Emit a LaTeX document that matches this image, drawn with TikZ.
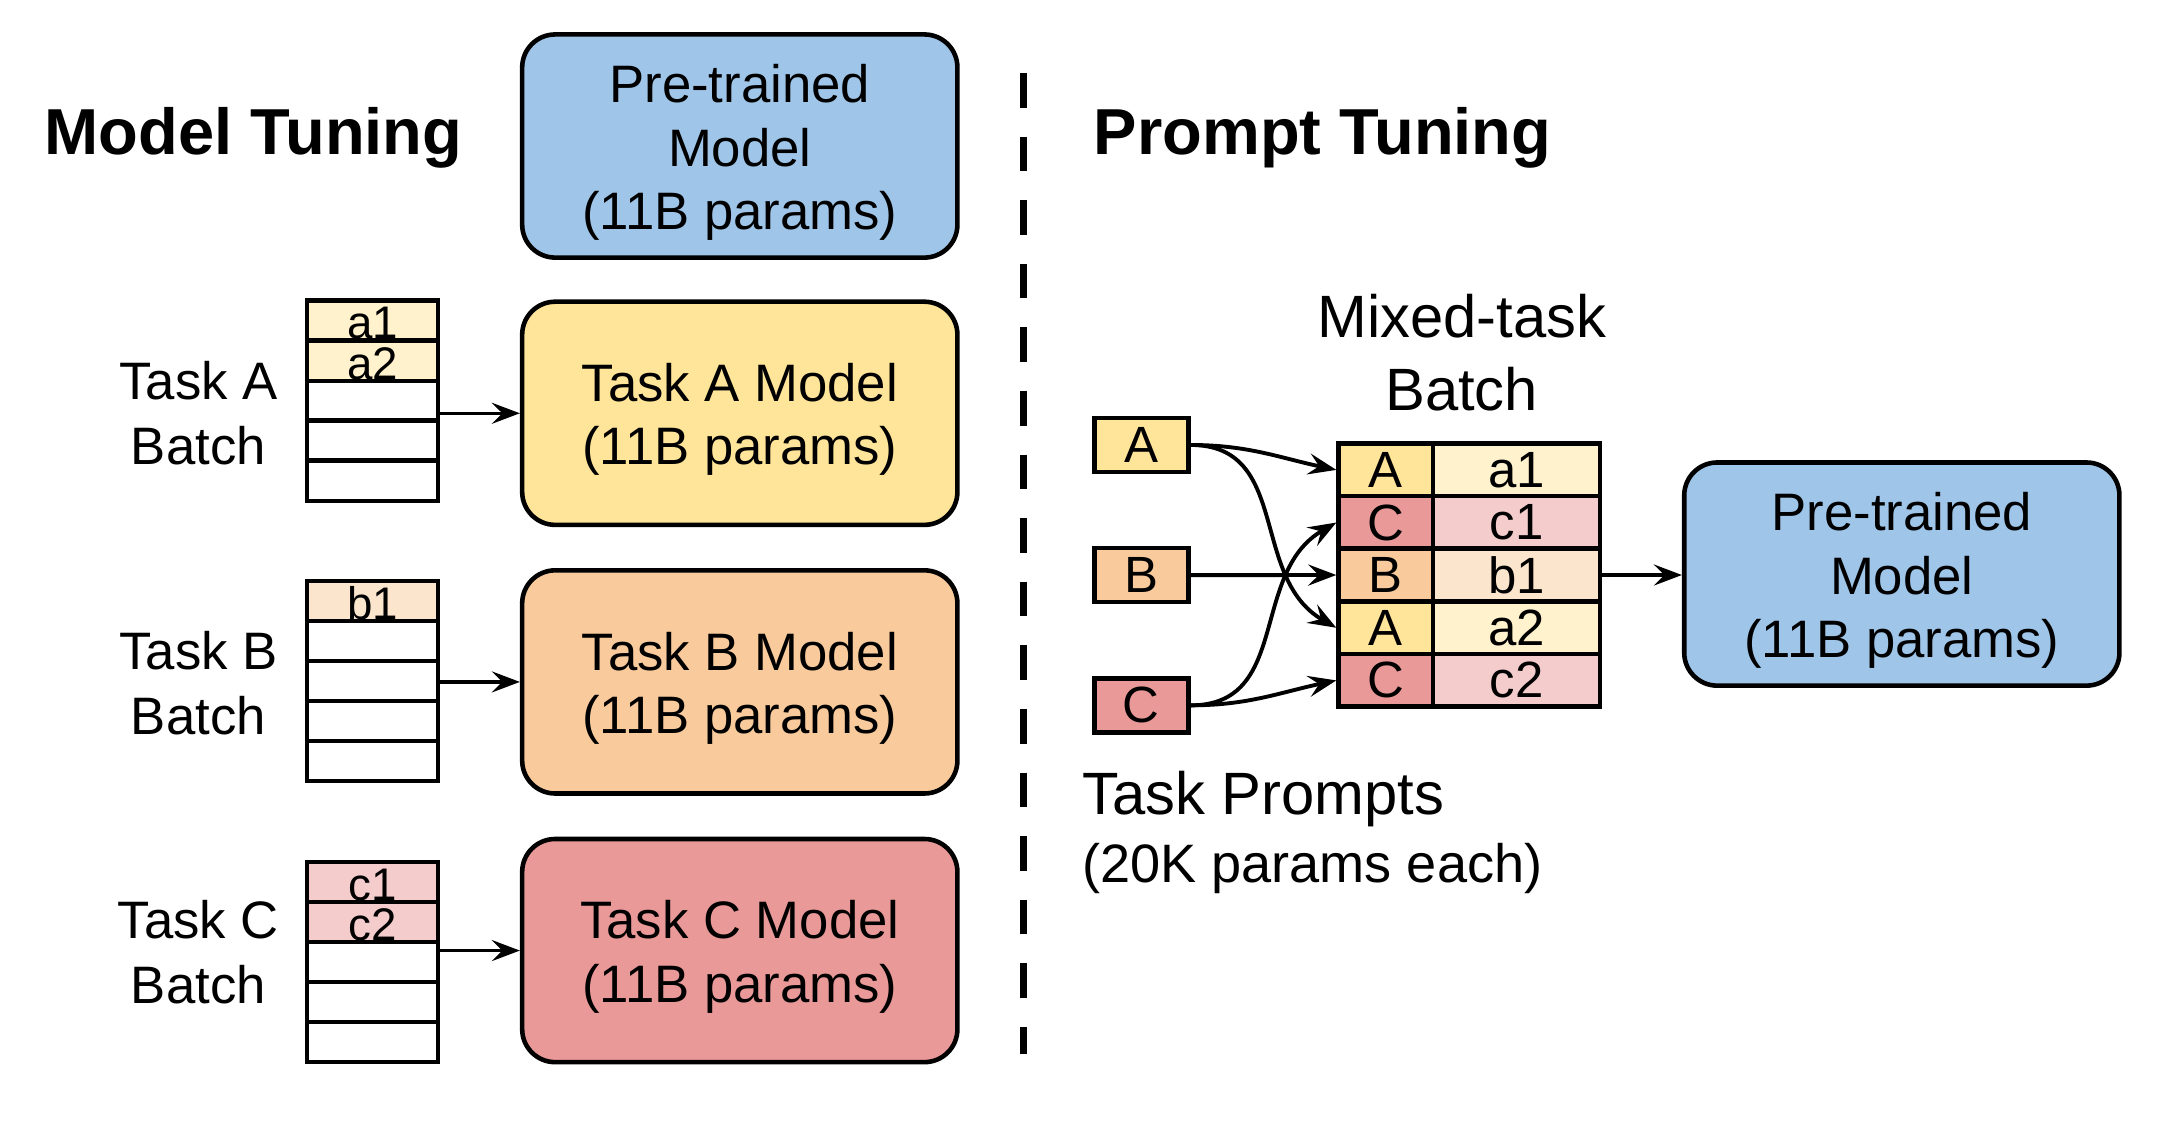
\documentclass[tikz,border=0pt]{standalone}
\usepackage{fontspec}
\setmainfont{Liberation Sans}
\usetikzlibrary{arrows.meta}
\definecolor{blueF}{HTML}{9FC5E8}
\definecolor{yelF}{HTML}{FFE599}
\definecolor{oraF}{HTML}{F9CB9C}
\definecolor{redF}{HTML}{EA9999}
\definecolor{yelL}{HTML}{FFF2CC}
\definecolor{oraL}{HTML}{FCE5CD}
\definecolor{redL}{HTML}{F4CCCC}
\newcommand{\bxs}{\rule{0pt}{14.5pt}}
\begin{document}
\begin{tikzpicture}[x=0.013776cm,y=-0.013776cm,
  model/.style={draw, line width=1.3pt, rounded corners=0.33cm, minimum width=4.353cm, minimum height=2.232cm, align=center, inner sep=0pt, font=\fontsize{15}{18}\selectfont},
  cell/.style={draw, line width=1.2pt, minimum width=1.31cm, minimum height=0.40cm, inner sep=0pt, text height=10.6pt, font=\fontsize{13}{14}\selectfont},
  prompt/.style={draw, line width=1.3pt, minimum width=0.94cm, minimum height=0.54cm, inner sep=0pt, font=\fontsize{14.5}{16}\selectfont},
  mixl/.style={draw, line width=1.3pt, minimum width=0.946cm, minimum height=0.527cm, inner sep=0pt, font=\fontsize{14.5}{16}\selectfont},
  mixr/.style={draw, line width=1.3pt, minimum width=1.67cm, minimum height=0.527cm, inner sep=0pt, font=\fontsize{14.5}{16}\selectfont},
  lbl/.style={align=center, inner sep=0pt, font=\fontsize{15}{18.5}\selectfont},
  title/.style={inner sep=0pt, font=\fontsize{18.5}{20}\selectfont\bfseries},
  arr/.style={line width=1pt, -{Stealth[length=8pt,width=6pt,inset=3pt]}},
  curv/.style={line width=1.1pt, -{Stealth[length=8pt,width=6pt,inset=3pt]}},
]
\useasboundingbox (0,0) rectangle (1567.9,827.5);

% ---------- Model tuning ----------
\node[title] (mt) at (184,100) {Model Tuning};
\node[model, fill=blueF] (pt1) at (537,106) {\bxs Pre-trained\\Model\\(11B params)};
\node[model, fill=yelF] (ma) at (537,300) {\bxs Task A Model\\(11B params)};
\node[model, fill=oraF] (mb) at (537,495) {\bxs Task B Model\\(11B params)};
\node[model, fill=redF] (mc) at (537,690) {\bxs Task C Model\\(11B params)};

% Task A batch
\node[cell, fill=yelL] (a1) at (270.4,232.7) {a1};
\node[cell, fill=yelL] (a2) at (270.4,261.8) {a2};
\node[cell] (a3) at (270.4,290.8) {};
\node[cell] (a4) at (270.4,319.8) {};
\node[cell] (a5) at (270.4,348.9) {};
% Task B batch
\node[cell, fill=oraL] (b1) at (270.4,436.5) {b1};
\node[cell] (b2) at (270.4,465.5) {};
\node[cell] (b3) at (270.4,494.5) {};
\node[cell] (b4) at (270.4,523.5) {};
\node[cell] (b5) at (270.4,552.5) {};
% Task C batch
\node[cell, fill=redL] (c1) at (270.4,640.5) {c1};
\node[cell, fill=redL] (c2) at (270.4,669.5) {c2};
\node[cell] (c3) at (270.4,698.5) {};
\node[cell] (c4) at (270.4,727.5) {};
\node[cell] (c5) at (270.4,756.5) {};

\node[lbl] (la) at (144,300) {Task A\\Batch};
\node[lbl] (lb) at (144,496) {Task B\\Batch};
\node[lbl] (lc) at (144,691) {Task C\\Batch};

\draw[arr] (ma.west -| a3.east) -- (ma.west);
\draw[arr] (mb.west -| b3.east) -- (mb.west);
\draw[arr] (mc.west -| c3.east) -- (mc.west);

% ---------- divider ----------
\coordinate (dtop) at (743,53);
\coordinate (dbot) at (743,765);
\draw[line width=2pt, dash pattern=on 0.347cm off 0.289cm] (dtop) -- (dbot);

% ---------- Prompt tuning ----------
\node[title] (ptt) at (960,100) {Prompt Tuning};
\node[align=center, inner sep=0pt, font=\fontsize{17}{21}\selectfont] (mix) at (1061,256) {Mixed-task\\Batch};

\node[prompt, fill=yelF] (pa) at (828.4,323) {A};
\node[prompt, fill=oraF] (pb) at (828.4,417.5) {B};
\node[prompt, fill=redF] (pc) at (828.4,512) {C};

\node[mixl, fill=yelF] (r1l) at (1006,341.1) {A};
\node[mixr, fill=yelL] (r1r) at (1100.9,341.1) {a1};
\node[mixl, fill=redF] (r2l) at (1006,379.3) {C};
\node[mixr, fill=redL] (r2r) at (1100.9,379.3) {c1};
\node[mixl, fill=oraF] (r3l) at (1006,417.4) {B};
\node[mixr, fill=oraL] (r3r) at (1100.9,417.4) {b1};
\node[mixl, fill=yelF] (r4l) at (1006,455.7) {A};
\node[mixr, fill=yelL] (r4r) at (1100.9,455.7) {a2};
\node[mixl, fill=redF] (r5l) at (1006,493.9) {C};
\node[mixr, fill=redL] (r5r) at (1100.9,493.9) {c2};

\node[model, fill=blueF] (pt2) at (1380.5,416.7) {\bxs Pre-trained\\Model\\(11B params)};

\draw[curv] (pa.east) to[out=0, in=168] (r1l.west);
\draw[curv] (pa.east) to[out=0, in=150, looseness=1.1] (r4l.west);
\draw[curv] (pb.east) -- (r3l.west);
\draw[curv] (pc.east) to[out=0, in=210, looseness=1.1] (r2l.west);
\draw[curv] (pc.east) to[out=0, in=192] (r5l.west);
\draw[arr] (r3r.east) -- (pt2.west |- r3r.east);

\node[align=left, anchor=north west, inner sep=0pt, font=\fontsize{17}{19.5}\selectfont] (tp) at (785,559) {Task Prompts\\{\fontsize{15.4}{19.5}\selectfont(20K params each)}};
\end{tikzpicture}
\end{document}
